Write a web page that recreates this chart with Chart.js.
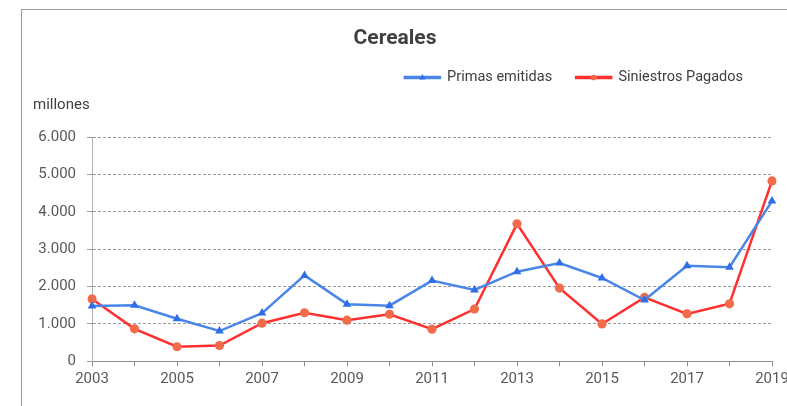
<!DOCTYPE html>
<html>
<head>
<meta charset="utf-8">
<script src="https://cdn.jsdelivr.net/npm/chart.js@4/dist/chart.umd.min.js"></script>
<style>
  html, body { margin: 0; padding: 0; background: #fff; overflow: hidden; }
  #frame { position: absolute; left: 21px; top: 9px; width: 800px; height: 420px;
           border-left: 1px solid #9e9e9e; border-top: 1px solid #9e9e9e; }
  #wrap { position: absolute; left: 0; top: 0; width: 800px; height: 406px; }
</style>
</head>
<body>
<div id="frame"></div>
<div id="wrap"><canvas id="myChart"></canvas></div>
<script>
// datos (millones)
const years = ['2003','2004','2005','2006','2007','2008','2009','2010','2011','2012','2013','2014','2015','2016','2017','2018','2019']
const primas = [1480, 1500, 1140, 810, 1290, 2300, 1530, 1490, 2160, 1910, 2400, 2630, 2230, 1640, 2560, 2520, 4290]
const siniestros = [1670, 870, 390, 420, 1020, 1300, 1100, 1260, 860, 1400, 3680, 1960, 1000, 1710, 1270, 1540, 4830]
const yTickLabels = ['0', '1.000', '2.000', '3.000', '4.000', '5.000', '6.000']

const fontFam = 'Roboto, "Noto Sans", sans-serif'
const blueLine = '#4a86e8', blueMark = '#2f6fe6'
const redLine = '#ff3030', redMark = '#f26b4a'

// ajustes: titulo y leyenda un poco a la izquierda + marcador en la leyenda
const legendMarkers = {
  id: 'legendMarkers',
  afterLayout(chart) {
    if (chart.legend) chart.legend.right -= 5
    if (chart.titleBlock) chart.titleBlock.right -= 15
  },
  afterDraw(chart) {
    const lg = chart.legend
    if (!lg || !lg.legendHitBoxes) return
    const ctx = chart.ctx
    lg.legendHitBoxes.forEach((hb, i) => {
      const ds = chart.data.datasets[i]
      const cx = hb.left + lg.options.labels.boxWidth / 2
      const cy = hb.top + hb.height / 2
      ctx.save()
      ctx.fillStyle = ds.pointBackgroundColor
      ctx.beginPath()
      if (ds.pointStyle === 'triangle') {
        ctx.moveTo(cx, cy - 3.5)
        ctx.lineTo(cx + 3, cy + 2)
        ctx.lineTo(cx - 3, cy + 2)
        ctx.closePath()
      } else {
        ctx.arc(cx, cy, 2.8, 0, Math.PI * 2)
      }
      ctx.fill()
      ctx.restore()
    })
  }
}

const ctx = document.getElementById('myChart').getContext('2d')
const char = new Chart(ctx, {
  type: 'line',
  data: {
    labels: years,
    datasets: [{
      label: 'Primas emitidas',
      data: primas,
      borderColor: blueLine,
      backgroundColor: blueLine,
      borderWidth: 2.5,
      pointStyle: 'triangle',
      pointRadius: 5,
      pointBackgroundColor: blueMark,
      pointBorderColor: blueMark,
      pointBorderWidth: 0,
      tension: 0
    }, {
      label: 'Siniestros Pagados',
      data: siniestros,
      borderColor: redLine,
      backgroundColor: redLine,
      borderWidth: 2.5,
      pointStyle: 'circle',
      pointRadius: 4.6,
      pointBackgroundColor: redMark,
      pointBorderColor: redMark,
      pointBorderWidth: 0,
      tension: 0
    }]
  },
  options: {
    responsive: true,
    maintainAspectRatio: false,
    animation: false,
    layout: { padding: { left: 33, right: 28, top: 0, bottom: 0 } },
    plugins: {
      title: {
        display: true,
        text: 'Cereales',
        color: '#404040',
        font: { family: fontFam, size: 21, weight: 'bold', lineHeight: 0.3 },
        padding: { top: 35.8, bottom: 4.1 }
      },
      legend: {
        display: true,
        align: 'end',
        labels: {
          boxWidth: 35,
          boxHeight: 1,
          padding: 24,
          color: '#404040',
          font: { family: fontFam, size: 14.5 }
        }
      },
      subtitle: {
        display: true,
        text: 'millones',
        align: 'start',
        weight: 500,
        color: '#404040',
        font: { family: fontFam, size: 15 },
        padding: { top: 1.2, bottom: 23.3 }
      },
      tooltip: { enabled: false }
    },
    scales: {
      x: {
        afterFit: s => { s.height = 44.7 },
        grid: { display: true, drawOnChartArea: false, drawTicks: true, tickLength: 5, color: '#8c8c8c' },
        border: { color: '#8c8c8c', width: 1 },
        ticks: {
          autoSkip: false,
          maxRotation: 0,
          padding: 4,
          color: '#595959',
          font: { family: fontFam, size: 15 },
          callback: (v, i) => (i % 2 === 0 ? years[i] : '')
        }
      },
      y: {
        min: 0,
        max: 6000,
        afterFit: s => { s.width = 59 },
        grid: { color: '#9a9a9a', tickLength: 5 },
        border: { color: '#b0b0b0', width: 1, dash: [3, 2] },
        ticks: {
          stepSize: 1000,
          padding: 11,
          color: '#595959',
          font: { family: fontFam, size: 15 },
          callback: (v, i) => yTickLabels[i]
        }
      }
    }
  },
  plugins: [legendMarkers]
})
</script>
</body>
</html>
